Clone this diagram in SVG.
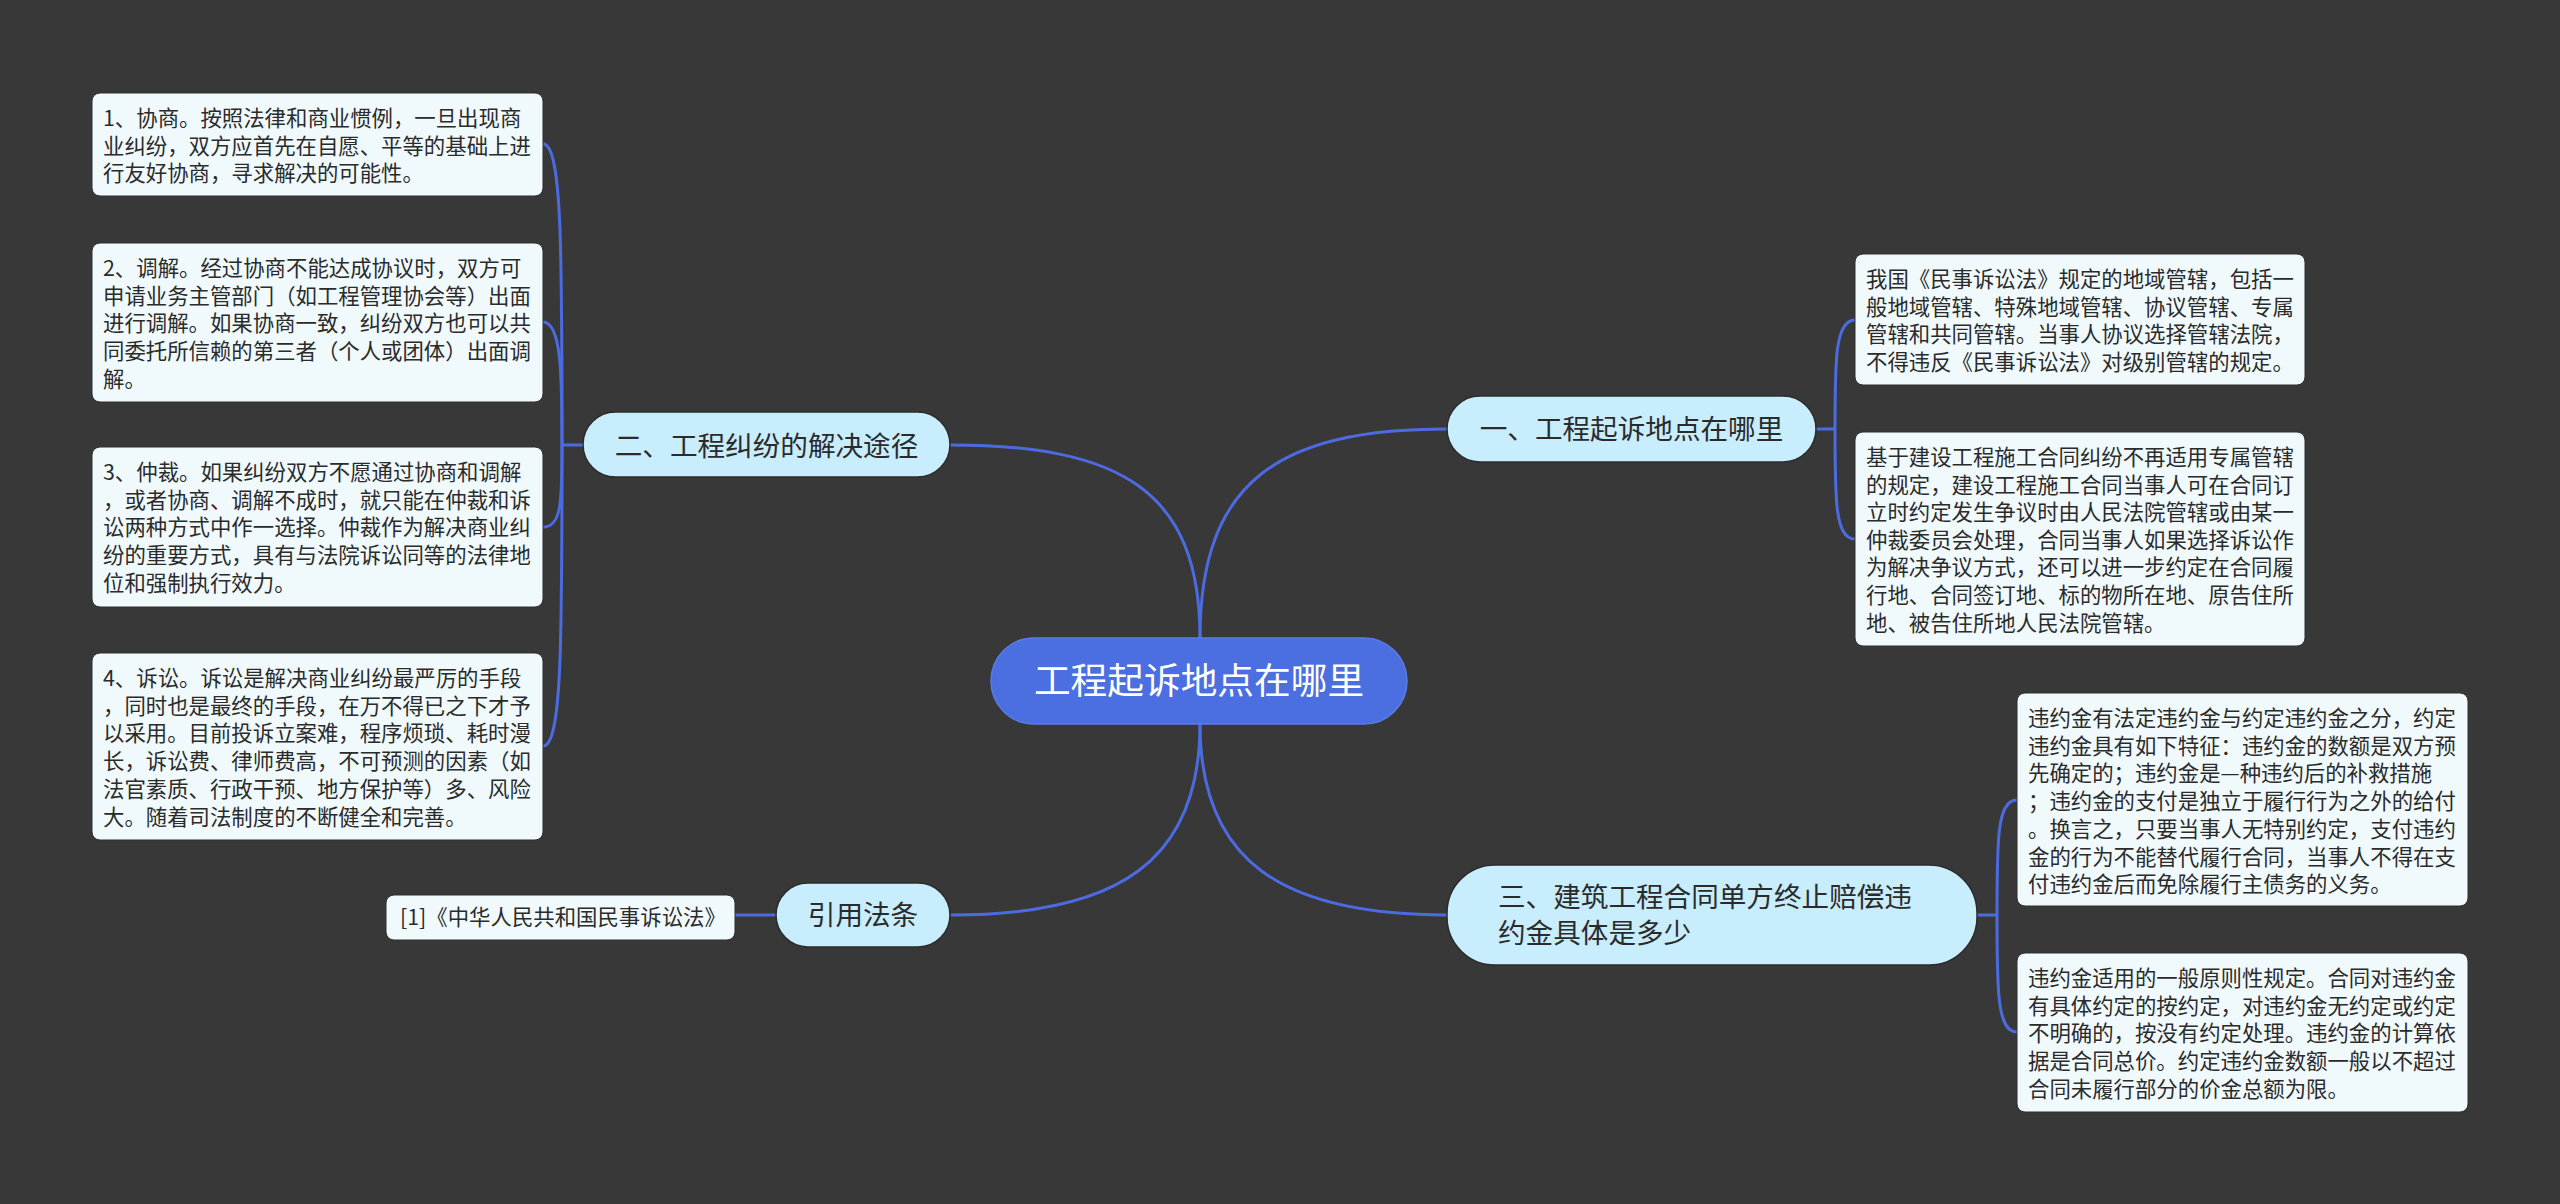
<svg xmlns="http://www.w3.org/2000/svg" width="2560" height="1204" viewBox="0 0 2560 1204">
<style>
.bg{fill:#383838}
.link{fill:none;stroke:#4d6be0;stroke-width:3}
.root{fill:#4b6fe0;stroke:#5a7ce6;stroke-width:1.5}
.l1{fill:#c8edfd;stroke:#2c2c2c;stroke-width:1.5}
.leaf{fill:#f0fafd;stroke:#2e2e2e;stroke-width:1}
.rt{font-family:"Noto Sans CJK SC","Noto Sans",sans-serif;font-size:36.7px;fill:#ffffff}
.t1{font-family:"Noto Sans CJK SC","Noto Sans",sans-serif;font-size:27.6px;fill:#2b2b2b}
.t2{font-family:"Noto Sans CJK SC","Noto Sans",sans-serif;font-size:21.4px;fill:#2b2b2b}
</style>
<rect class="bg" x="0" y="0" width="2560" height="1204"/>
<g id="connectors">
<path class="link" d="M1200,638 C1200,480 1280,429 1447,429"/>
<path class="link" d="M1200,638 C1200,490 1120,445 950,445"/>
<path class="link" d="M1200,724 C1200,860 1280,915 1447,915"/>
<path class="link" d="M1200,724 C1200,860 1120,915 951,915"/>
<path class="link" d="M583,445 L562,445"/>
<path class="link" d="M562,445 C562,250 562,144 543,144"/>
<path class="link" d="M562,445 C562,380 562,322 543,322"/>
<path class="link" d="M562,445 C562,500 562,527 543,527"/>
<path class="link" d="M562,445 C562,640 562,746 543,746"/>
<path class="link" d="M1816,429 L1835,429"/>
<path class="link" d="M1835,429 C1835,360 1835,320 1855,320"/>
<path class="link" d="M1835,429 C1835,500 1835,539 1855,539"/>
<path class="link" d="M1977,915 L1997,915"/>
<path class="link" d="M1997,915 C1997,840 1997,800 2017,800"/>
<path class="link" d="M1997,915 C1997,990 1997,1032 2017,1032"/>
<path class="link" d="M776,915 L735,915"/>
</g>
<g id="root">
<rect class="root" x="991" y="638" width="416" height="86" rx="43"/>
<text class="rt" x="1199" y="694" text-anchor="middle">工程起诉地点在哪里</text>
</g>
<g id="n1">
<rect class="l1" x="1447" y="396" width="369" height="66" rx="33"/>
<text class="t1" x="1631.5" y="439" text-anchor="middle">一、工程起诉地点在哪里</text>
</g>
<g id="n2">
<rect class="l1" x="583" y="412" width="367" height="65" rx="32.5"/>
<text class="t1" x="766.5" y="456" text-anchor="middle">二、工程纠纷的解决途径</text>
</g>
<g id="n3">
<rect class="l1" x="1447" y="865" width="530" height="100" rx="48"/>
<text class="t1" x="1498" y="907">三、建筑工程合同单方终止赔偿违</text>
<text class="t1" x="1498" y="943">约金具体是多少</text>
</g>
<g id="n4">
<rect class="l1" x="776" y="883" width="174" height="64" rx="32"/>
<text class="t1" x="863" y="925" text-anchor="middle">引用法条</text>
</g>
<g id="n4a">
<rect class="leaf" x="386" y="895" width="349" height="45" rx="8"/>
<text class="t2" x="400" y="925">[1]《中华人民共和国民事诉讼法》</text>
</g>
<g id="l1">
<rect class="leaf" x="92" y="93" width="451" height="103" rx="8"/>
<text class="t2" x="103" y="126"><tspan x="103">1、协商。按照法律和商业惯例，一旦出现商</tspan><tspan x="103" dy="27.7">业纠纷，双方应首先在自愿、平等的基础上进</tspan><tspan x="103" dy="27.7">行友好协商，寻求解决的可能性。</tspan></text>
</g>
<g id="l2">
<rect class="leaf" x="92" y="243" width="451" height="159" rx="8"/>
<text class="t2" x="103" y="276"><tspan x="103">2、调解。经过协商不能达成协议时，双方可</tspan><tspan x="103" dy="27.7">申请业务主管部门（如工程管理协会等）出面</tspan><tspan x="103" dy="27.7">进行调解。如果协商一致，纠纷双方也可以共</tspan><tspan x="103" dy="27.7">同委托所信赖的第三者（个人或团体）出面调</tspan><tspan x="103" dy="27.7">解。</tspan></text>
</g>
<g id="l3">
<rect class="leaf" x="92" y="447" width="451" height="160" rx="8"/>
<text class="t2" x="103" y="480"><tspan x="103">3、仲裁。如果纠纷双方不愿通过协商和调解</tspan><tspan x="103" dy="27.7">，或者协商、调解不成时，就只能在仲裁和诉</tspan><tspan x="103" dy="27.7">讼两种方式中作一选择。仲裁作为解决商业纠</tspan><tspan x="103" dy="27.7">纷的重要方式，具有与法院诉讼同等的法律地</tspan><tspan x="103" dy="27.7">位和强制执行效力。</tspan></text>
</g>
<g id="l4">
<rect class="leaf" x="92" y="653" width="451" height="187" rx="8"/>
<text class="t2" x="103" y="686"><tspan x="103">4、诉讼。诉讼是解决商业纠纷最严厉的手段</tspan><tspan x="103" dy="27.7">，同时也是最终的手段，在万不得已之下才予</tspan><tspan x="103" dy="27.7">以采用。目前投诉立案难，程序烦琐、耗时漫</tspan><tspan x="103" dy="27.7">长，诉讼费、律师费高，不可预测的因素（如</tspan><tspan x="103" dy="27.7">法官素质、行政干预、地方保护等）多、风险</tspan><tspan x="103" dy="27.7">大。随着司法制度的不断健全和完善。</tspan></text>
</g>
<g id="r1">
<rect class="leaf" x="1855" y="254" width="450" height="131" rx="8"/>
<text class="t2" x="1866" y="287"><tspan x="1866">我国《民事诉讼法》规定的地域管辖，包括一</tspan><tspan x="1866" dy="27.6">般地域管辖、特殊地域管辖、协议管辖、专属</tspan><tspan x="1866" dy="27.6">管辖和共同管辖。当事人协议选择管辖法院，</tspan><tspan x="1866" dy="27.6">不得违反《民事诉讼法》对级别管辖的规定。</tspan></text>
</g>
<g id="r2">
<rect class="leaf" x="1855" y="432" width="450" height="214" rx="8"/>
<text class="t2" x="1866" y="465"><tspan x="1866">基于建设工程施工合同纠纷不再适用专属管辖</tspan><tspan x="1866" dy="27.6">的规定，建设工程施工合同当事人可在合同订</tspan><tspan x="1866" dy="27.6">立时约定发生争议时由人民法院管辖或由某一</tspan><tspan x="1866" dy="27.6">仲裁委员会处理，合同当事人如果选择诉讼作</tspan><tspan x="1866" dy="27.6">为解决争议方式，还可以进一步约定在合同履</tspan><tspan x="1866" dy="27.6">行地、合同签订地、标的物所在地、原告住所</tspan><tspan x="1866" dy="27.6">地、被告住所地人民法院管辖。</tspan></text>
</g>
<g id="r3">
<rect class="leaf" x="2017" y="693" width="451" height="213" rx="8"/>
<text class="t2" x="2028" y="726"><tspan x="2028">违约金有法定违约金与约定违约金之分，约定</tspan><tspan x="2028" dy="27.7">违约金具有如下特征：违约金的数额是双方预</tspan><tspan x="2028" dy="27.7">先确定的；违约金是—种违约后的补救措施</tspan><tspan x="2028" dy="27.7">；违约金的支付是独立于履行行为之外的给付</tspan><tspan x="2028" dy="27.7">。换言之，只要当事人无特别约定，支付违约</tspan><tspan x="2028" dy="27.7">金的行为不能替代履行合同，当事人不得在支</tspan><tspan x="2028" dy="27.7">付违约金后而免除履行主债务的义务。</tspan></text>
</g>
<g id="r4">
<rect class="leaf" x="2017" y="953" width="451" height="159" rx="8"/>
<text class="t2" x="2028" y="986"><tspan x="2028">违约金适用的一般原则性规定。合同对违约金</tspan><tspan x="2028" dy="27.7">有具体约定的按约定，对违约金无约定或约定</tspan><tspan x="2028" dy="27.7">不明确的，按没有约定处理。违约金的计算依</tspan><tspan x="2028" dy="27.7">据是合同总价。约定违约金数额一般以不超过</tspan><tspan x="2028" dy="27.7">合同未履行部分的价金总额为限。</tspan></text>
</g>
</svg>
